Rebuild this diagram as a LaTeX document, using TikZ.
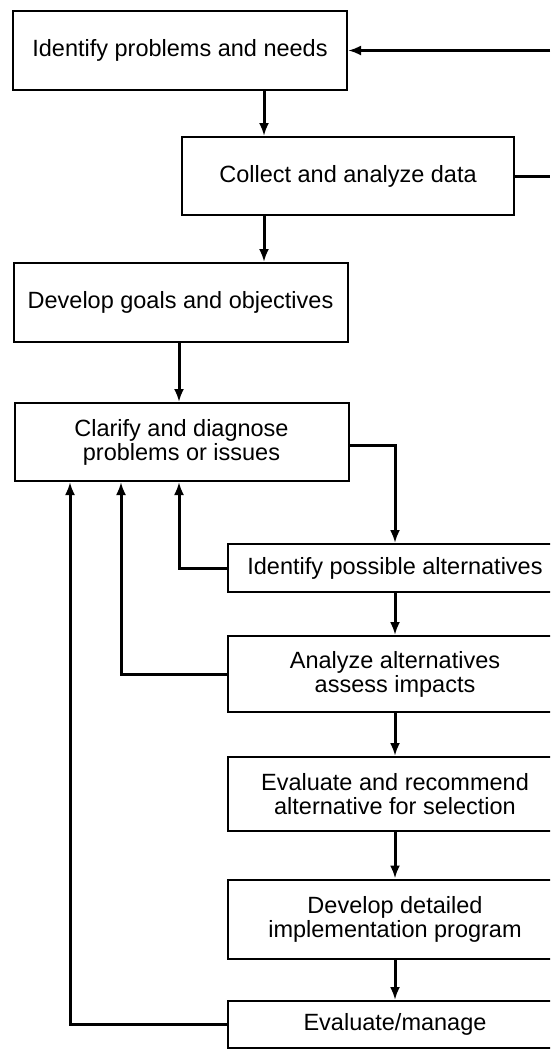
\documentclass[tikz,border=0pt]{standalone}
\usepackage{fontspec}
\setmainfont{Liberation Sans}
\usetikzlibrary{arrows.meta}

\tikzset{
  stage/.style={draw, line width=2pt, inner sep=0pt, align=center,
    minimum width=334pt, font=\fontsize{23.5}{24}\selectfont},
  flow/.style={line width=3pt, -{Latex[length=13pt,width=10pt]}},
  link/.style={line width=3pt}
}

\begin{document}
\begin{tikzpicture}[x=1pt,y=-1pt]
    \useasboundingbox (0,0) rectangle (550,1050);
    \clip (0,0) rectangle (550,1050);

    % x positions of the vertical connectors
    \coordinate (xa) at (70,0);
    \coordinate (xb) at (121,0);
    \coordinate (xc) at (179,0);
    \coordinate (xd) at (264,0);
    \coordinate (xr) at (550,0); % right margin

    % Upper boxes
    \node[stage, minimum height=79pt] (need) at (180,50.5) {Identify problems and needs};
    \node[stage, minimum height=78pt, minimum width=332pt] (data) at (348,176) {Collect and analyze data};
    \node[stage, minimum height=79pt] (goal) at (180.5,302.5) {Develop goals and objectives};
    \node[stage, minimum height=78pt] (diag) at (181.5,442) {Clarify and diagnose\\problems or issues};

    % Lower column, cut by the right margin
    \node[stage, minimum height=48pt] (alt) at (395,568) {Identify possible alternatives};
    \node[stage, minimum height=76pt] (impact) at (395,674) {Analyze alternatives\\assess impacts};
    \node[stage, minimum height=74pt] (recom) at (395,794) {Evaluate and recommend\\alternative for selection};
    \node[stage, minimum height=79pt] (impl) at (395,919) {Develop detailed\\implementation program};
    \node[stage, minimum height=47pt] (manage) at (395,1024.5) {Evaluate/manage};

    % Main sequence
    \draw[flow] (need.east -| xr) -- (need.east);
    \draw[link] (data.east) -- (data.east -| xr);
    \draw[flow] (need.south -| xd) -- (data.north -| xd);
    \draw[flow] (data.south -| xd) -- (goal.north -| xd);
    \draw[flow] (goal.south -| xc) -- (diag.north -| xc);
    \draw[flow] ([yshift=-3pt]diag.east) -| (alt.north);
    \foreach \a/\b in {alt/impact, impact/recom, recom/impl, impl/manage}
        \draw[flow] (\a.south) -- (\b.north);

    % Feedback to the diagnosis
    \draw[flow] (alt.west) -| (diag.south -| xc);
    \draw[flow] (impact.west) -| (diag.south -| xb);
    \draw[flow] (manage.west) -| (diag.south -| xa);
\end{tikzpicture}
\end{document}
